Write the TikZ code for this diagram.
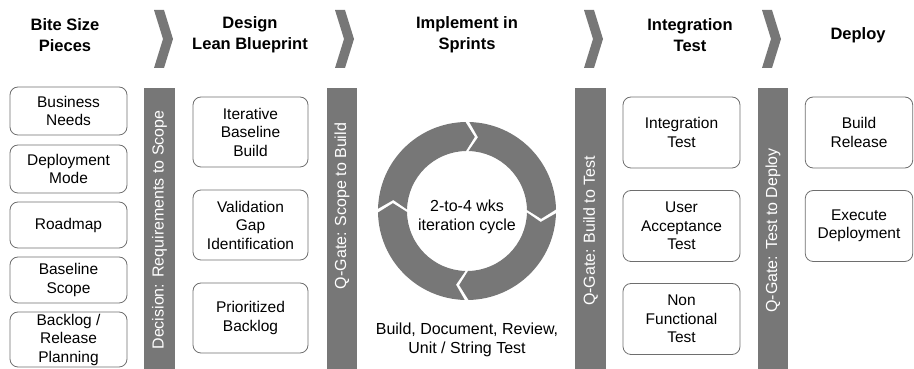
\documentclass[tikz,border=0pt]{standalone}
\usepackage{fontspec}
\setmainfont{Liberation Sans}
\usepackage{xcolor}
\usepackage{tikz}

\definecolor{gatebg}{RGB}{119,119,119}
\definecolor{boxline}{RGB}{110,110,110}

\tikzset{
    phase/.style={font=\fontsize{16.5}{21}\selectfont\bfseries, align=center, inner sep=0pt},
    item/.style={draw=boxline, line width=0.8pt, rounded corners=8pt, align=center, inner sep=0pt,
        font=\fontsize{15.5}{18.5}\selectfont},
    gatetext/.style={text=white, rotate=90, inner sep=0pt, font=\fontsize{16}{19}\selectfont},
    plain/.style={align=center, inner sep=0pt, font=\fontsize{16}{19}\selectfont}
}

\begin{document}
\begin{tikzpicture}[x=1pt,y=1pt]
            \useasboundingbox (0,0) rectangle (914,369);

            \node[phase] (pieces) at (65,334) {Bite Size\\Pieces};
            \node[phase] (design) at (250,334) {Design\\Lean Blueprint};
            \node[phase] (sprints) at (467,334) {Implement in\\Sprints};
            \node[phase] (integ) at (690,334) {Integration\\Test};
            \node[phase] (deploy) at (858,334) {Deploy};

            \foreach \cx in {154,335,584,762}
                \fill[gatebg] (\cx,359) -- ++(10,0) -- ++(9,-29) -- ++(-9,-29) -- ++(-10,0) -- ++(9,29) -- cycle;

            \fill[gatebg] (144,0) rectangle (175,281);
            \fill[gatebg] (327,0) rectangle (357,281);
            \fill[gatebg] (575,0) rectangle (606,281);
            \fill[gatebg] (758,0) rectangle (788,281);
            \node[gatetext] (decision) at (159.5,139) {Decision: Requirements to Scope};
            \node[gatetext] (qscope) at (342,163) {Q-Gate: Scope to Build};
            \node[gatetext] (qbuild) at (590.5,138) {Q-Gate: Build to Test};
            \node[gatetext] (qtest) at (773,138.5) {Q-Gate: Test to Deploy};

            \node[item, minimum width=117, minimum height=48] (needs) at (68.5,258) {Business\\Needs};
            \node[item, minimum width=117, minimum height=48] (mode) at (68.5,200) {Deployment\\Mode};
            \node[item, minimum width=117, minimum height=46] (roadmap) at (68.5,144) {Roadmap};
            \node[item, minimum width=117, minimum height=46] (scope) at (68.5,89) {Baseline\\Scope};
            \node[item, minimum width=117, minimum height=55] (backlog) at (68.5,29.5) {Backlog /\\Release\\Planning};

            \node[item, minimum width=115, minimum height=70] (iterative) at (250.5,237) {Iterative\\Baseline\\Build};
            \node[item, minimum width=115, minimum height=70] (validation) at (250.5,144) {Validation\\Gap\\Identification};
            \node[item, minimum width=115, minimum height=70] (prioritized) at (250.5,51) {Prioritized\\Backlog};

            \node[item, minimum width=117, minimum height=71] (inttest) at (681.5,236.5) {Integration\\Test};
            \node[item, minimum width=117, minimum height=71] (uat) at (681.5,143) {User\\Acceptance\\Test};
            \node[item, minimum width=117, minimum height=71] (nonfunc) at (681.5,50) {Non\\Functional\\Test};

            \node[item, minimum width=107.5, minimum height=71] (release) at (859,236.5) {Build\\Release};
            \node[item, minimum width=107.5, minimum height=71] (execute) at (859,143) {Execute\\Deployment};

            \begin{scope}[shift={(467,158)}]
                \foreach \a in {91,1,-89,-179}
                    \fill[gatebg] (\a-2.5:89pt) arc[start angle=\a-2.5, end angle=\a-90, radius=89pt]
                        -- (\a-97:74.5pt) -- (\a-90:60pt) arc[start angle=\a-90, end angle=\a-2.5, radius=60pt]
                        -- (\a-9.5:74.5pt) -- cycle;
            \end{scope}
            \node[plain] (cycle) at (467,152) {2-to-4 wks\\iteration cycle};
            \node[plain] (tasks) at (467,29) {Build, Document, Review,\\Unit / String Test};
        \end{tikzpicture}
\end{document}
